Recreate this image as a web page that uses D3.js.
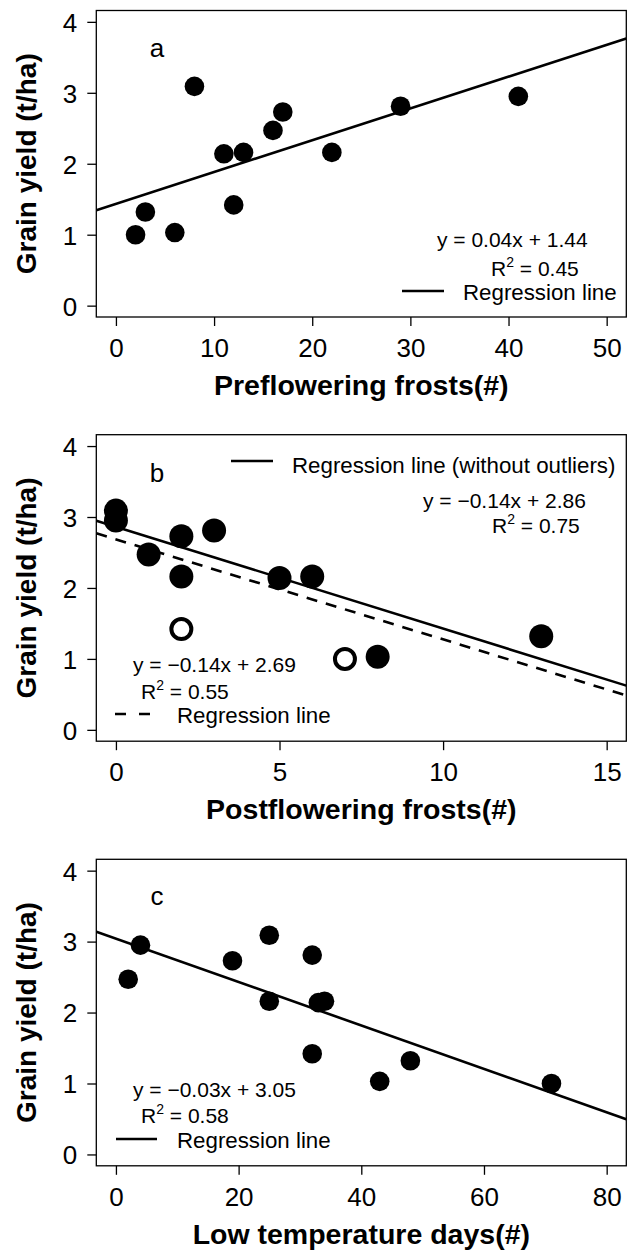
<!DOCTYPE html>
<html>
<head>
<meta charset="utf-8">
<script src="https://cdn.jsdelivr.net/npm/d3@7"></script>
<style>
  body { margin: 0; background: #fff; }
  svg { display: block; font-family: "Liberation Sans", Arial, sans-serif; }
</style>
</head>
<body>
<div id="chart"></div>
<script>
    // -------------------------------
    // Data
    // -------------------------------
    const yTicks = [0, 1, 2, 3, 4];

    // a: preflowering frosts
    const preFrosts = [2, 3, 6, 8, 11, 12, 13, 16, 17, 22, 29, 41];
    const preYield  = [1.00, 1.32, 1.03, 3.09, 2.14, 1.42, 2.16, 2.47, 2.73, 2.16, 2.81, 2.95];
    const preTicks  = [0, 10, 20, 30, 40, 50];
    const preFit    = [0.0448, 1.435];           // slope, intercept

    // b: postflowering frosts (two open points are outliers)
    const postFrosts  = [0, 0, 1, 2, 2, 2, 3, 5, 6, 7, 8, 13];
    const postYield   = [3.09, 2.95, 2.47, 2.73, 2.16, 1.42, 2.81, 2.14, 2.16, 1.00, 1.03, 1.32];
    const postOutlier = [0, 0, 0, 0, 0, 1, 0, 0, 0, 1, 0, 0];
    const postTicks   = [0, 5, 10, 15];
    const postFit     = [-0.1435, 2.862];        // without outliers
    const postFitAll  = [-0.141, 2.685];         // all points

    // c: low temperature days
    const lowDays  = [2, 4, 19, 25, 25, 32, 32, 33, 34, 43, 48, 71];
    const lowYield = [2.47, 2.95, 2.73, 3.09, 2.16, 2.81, 1.42, 2.14, 2.16, 1.03, 1.32, 1.00];
    const lowTicks = [0, 20, 40, 60, 80];
    const lowFit   = [-0.0306, 3.042];

    // -------------------------------
    // Layout
    // -------------------------------
    const W = 627, H = 1253;
    const boxLeft = 96.3, boxW = 530, boxH = 306.5;

    const svg = d3.select("#chart").append("svg")
        .attr("width", W)
        .attr("height", H);

    function drawPanel(p) {
      const g = svg.append("g").attr("transform", `translate(${boxLeft},${p.top})`);

      // R style axis range: limits padded by 4%
      const xl = p.xlim, pad = (xl[1] - xl[0]) * 0.04;
      const x = d3.scaleLinear().domain([xl[0] - pad, xl[1] + pad]).range([0, boxW]);
      const y = d3.scaleLinear().domain([-0.16, 4.16]).range([boxH, 0]);

      g.append("clipPath").attr("id", "clip-" + p.key)
        .append("rect").attr("width", boxW).attr("height", boxH);

      // axes
      const xAxis = g.append("g")
          .attr("transform", `translate(0,${boxH})`)
          .call(d3.axisBottom(x).tickValues(p.xticks).tickSize(9).tickPadding(4).tickFormat(d3.format("d")));
      const yAxis = g.append("g")
          .call(d3.axisLeft(y).tickValues(yTicks).tickSize(9).tickPadding(10).tickFormat(d3.format("d")));
      [xAxis, yAxis].forEach(a => {
        a.select(".domain").remove();
        a.selectAll("line").attr("stroke", "#000").attr("stroke-width", 1.3);
        a.selectAll("text").attr("font-size", 26).attr("fill", "#000")
          .attr("font-family", "Liberation Sans, Arial, sans-serif");
      });
      xAxis.selectAll("text").attr("dy", null).attr("y", 40);
      yAxis.selectAll("text").attr("dy", "0.36em");

      // box
      g.append("rect")
        .attr("width", boxW).attr("height", boxH)
        .attr("fill", "none").attr("stroke", "#000").attr("stroke-width", 1.3);

      // regression lines
      const plot = g.append("g").attr("clip-path", `url(#clip-${p.key})`);
      const xd = x.domain();
      p.fits.forEach(f => {
        plot.append("path")
          .datum(xd.map(v => [v, f.coef[0] * v + f.coef[1]]))
          .attr("d", d3.line().x(d => x(d[0])).y(d => y(d[1])))
          .attr("fill", "none").attr("stroke", "#000").attr("stroke-width", 2.6)
          .attr("stroke-dasharray", f.dash ? "11,9" : null);
      });

      // points
      const pts = p.xs.map((v, i) => ({ x: v, y: p.ys[i], open: p.open ? p.open[i] : 0 }));
      g.selectAll(".pt-" + p.key)
        .data(pts)
        .enter().append("circle")
          .attr("cx", d => x(d.x))
          .attr("cy", d => y(d.y))
          .attr("r", d => d.open ? p.r - 2 : p.r)
          .attr("fill", d => d.open ? "#fff" : "#000")
          .attr("stroke", "#000")
          .attr("stroke-width", d => d.open ? 4 : 0);

      // panel letter
      g.append("text").attr("x", 157 - boxLeft).attr("y", p.letterY)
        .attr("text-anchor", "middle").attr("font-size", 26).text(p.key);

      // axis titles
      g.append("text")
        .attr("x", boxW / 2).attr("y", boxH + 78)
        .attr("text-anchor", "middle").attr("font-size", 28.5).attr("font-weight", "bold")
        .text(p.xlabel);
      g.append("text")
        .attr("transform", `translate(${36 - boxLeft},${boxH / 2}) rotate(-90)`)
        .attr("text-anchor", "middle").attr("font-size", 28).attr("font-weight", "bold")
        .text("Grain yield (t/ha)");

      // annotations: equations, R squared, legend keys
      p.notes.forEach(n => {
        if (n.eq) {
          g.append("text").attr("x", n.x - boxLeft).attr("y", n.y)
            .attr("font-size", 21).text(n.eq);
        }
        if (n.r2) {
          const t = g.append("text").attr("x", n.x - boxLeft).attr("y", n.y).attr("font-size", 21);
          t.append("tspan").text("R");
          t.append("tspan").attr("dy", -9).attr("font-size", 14).text("2");
          t.append("tspan").attr("dy", 9).text(" = " + n.r2);
        }
        if (n.key) {
          g.append("line")
            .attr("x1", n.x - boxLeft).attr("x2", n.x2 - boxLeft)
            .attr("y1", n.ly).attr("y2", n.ly)
            .attr("stroke", "#000").attr("stroke-width", 2.6)
            .attr("stroke-dasharray", n.dash ? "11,13" : null);
          g.append("text").attr("x", n.tx - boxLeft).attr("y", n.y)
            .attr("font-size", 22.3).text(n.key);
        }
      });
    }

    // -------------------------------
    // Panels
    // -------------------------------
    drawPanel({
      key: "a", top: 10.5, letterY: 57 - 10.5, r: 9.8,
      xlim: [0, 50], xticks: preTicks, xs: preFrosts, ys: preYield,
      xlabel: "Preflowering frosts(#)",
      fits: [{ coef: preFit }],
      notes: [
        { x: 437, y: 247 - 10.5, eq: "y = 0.04x + 1.44" },
        { x: 491, y: 276 - 10.5, r2: "0.45" },
        { x: 402, x2: 444, ly: 291 - 10.5, tx: 463, y: 300 - 10.5, key: "Regression line" }
      ]
    });

    drawPanel({
      key: "b", top: 434.7, letterY: 482 - 434.7, r: 12,
      xlim: [0, 15], xticks: postTicks, xs: postFrosts, ys: postYield, open: postOutlier,
      xlabel: "Postflowering frosts(#)",
      fits: [{ coef: postFit }, { coef: postFitAll, dash: true }],
      notes: [
        { x: 231, x2: 273, ly: 461 - 434.7, tx: 292, y: 473 - 434.7, key: "Regression line (without outliers)" },
        { x: 423, y: 508 - 434.7, eq: "y = \u22120.14x + 2.86" },
        { x: 492, y: 533 - 434.7, r2: "0.75" },
        { x: 133, y: 672 - 434.7, eq: "y = \u22120.14x + 2.69" },
        { x: 141, y: 699 - 434.7, r2: "0.55" },
        { x: 115, x2: 152, ly: 714 - 434.7, tx: 177, y: 723 - 434.7, key: "Regression line", dash: true }
      ]
    });

    drawPanel({
      key: "c", top: 859.3, letterY: 905 - 859.3, r: 9.8,
      xlim: [0, 80], xticks: lowTicks, xs: lowDays, ys: lowYield,
      xlabel: "Low temperature days(#)",
      fits: [{ coef: lowFit }],
      notes: [
        { x: 133, y: 1097 - 859.3, eq: "y = \u22120.03x + 3.05" },
        { x: 141, y: 1123 - 859.3, r2: "0.58" },
        { x: 116, x2: 157, ly: 1139 - 859.3, tx: 177, y: 1148 - 859.3, key: "Regression line" }
      ]
    });
</script>
</body>
</html>
